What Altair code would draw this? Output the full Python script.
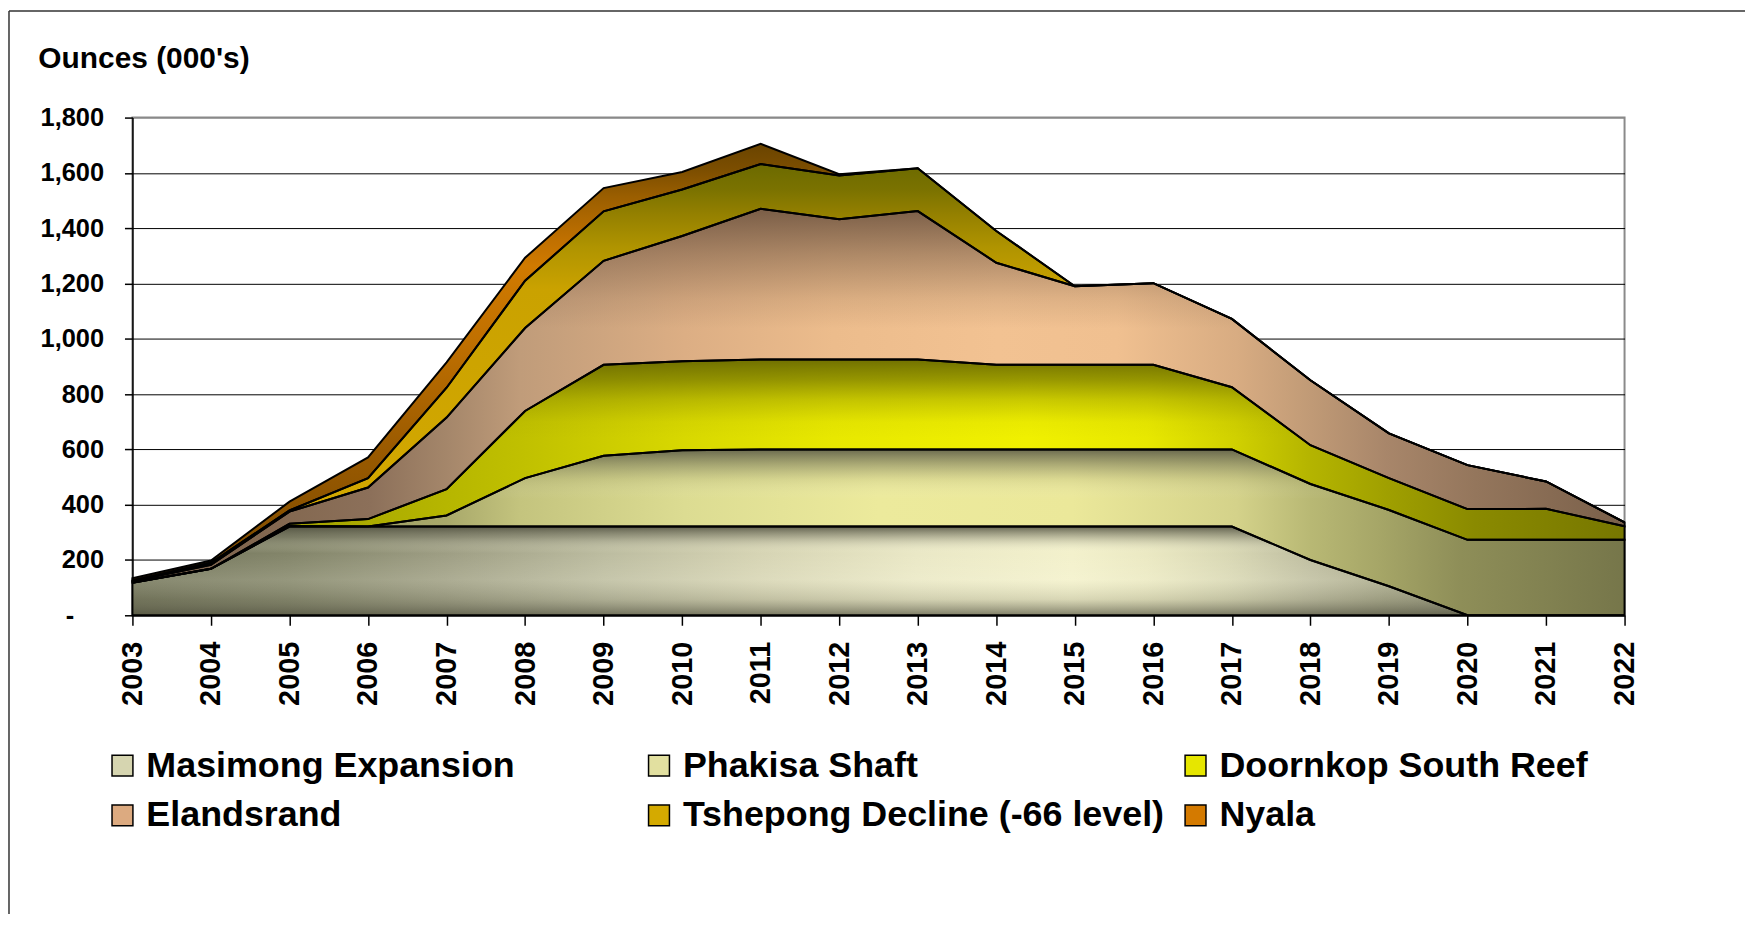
import altair as alt
import pandas as pd

# ---------------- data ----------------
years = list(range(2003, 2023))
series_names = [
    "Masimong Expansion",
    "Phakisa Shaft",
    "Doornkop South Reef",
    "Elandsrand",
    "Tshepong Decline (-66 level)",
    "Nyala",
]
masimong = [118, 168, 321, 321, 321, 321, 321, 321, 321, 321, 321, 321, 321, 321, 321, 200, 105, 0, 0, 0]
phakisa = [0, 0, 2, 0, 40, 175, 256, 276, 279, 279, 279, 279, 279, 279, 279, 275, 276, 273, 273, 273]
doornkop = [0, 0, 8, 27, 95, 243, 329, 322, 325, 325, 325, 306, 306, 306, 225, 140, 115, 111, 112, 49]
elandsrand = [5, 15, 44, 114, 259, 300, 376, 453, 545, 507, 537, 369, 284, 295, 247, 235, 162, 159, 99, 14]
tshepong = [3, 7, 4, 34, 108, 171, 179, 168, 162, 159, 155, 115, 0, 0, 0, 0, 0, 0, 0, 0]
nyala = [8, 8, 32, 75, 92, 83, 84, 63, 73, 4, 0, 0, 0, 0, 0, 0, 0, 0, 0, 0]
y_ticks = [0, 200, 400, 600, 800, 1000, 1200, 1400, 1600, 1800]
legend_colors = {
    "Masimong Expansion": "#d6d5b0",
    "Phakisa Shaft": "#e2e0a0",
    "Doornkop South Reef": "#e6e600",
    "Elandsrand": "#dcaa80",
    "Tshepong Decline (-66 level)": "#d4aa00",
    "Nyala": "#d47a00",
}
# legend fills column by column: reorder so rows read as in the original
legend_order = [
    "Masimong Expansion", "Elandsrand",
    "Phakisa Shaft", "Tshepong Decline (-66 level)",
    "Doornkop South Reef", "Nyala",
]

all_values = [masimong, phakisa, doornkop, elandsrand, tshepong, nyala]
rows = []
for order, (name, vals) in enumerate(zip(series_names, all_values)):
    for yr, v in zip(years, vals):
        rows.append({"year": yr, "series": name, "value": v, "order": order})
df = pd.DataFrame(rows)

FONT = "Liberation Sans"


def hgrad(stops):
    return {"gradient": "linear", "x1": 0, "y1": 0, "x2": 1, "y2": 0,
            "stops": [{"offset": o, "color": c} for o, c in stops]}


def vgrad(stops):
    return {"gradient": "linear", "x1": 0, "y1": 0, "x2": 0, "y2": 1,
            "stops": [{"offset": o, "color": c} for o, c in stops]}


fills = {
    "Masimong Expansion": (
        hgrad([(0, "#72745a"), (0.105, "#83856a"), (0.21, "#9e9e84"), (0.316, "#bcbca0"),
               (0.42, "#d6d4b4"), (0.526, "#eae8c6"), (0.63, "#f3f1cc"), (0.68, "#ebe9c3"),
               (0.737, "#d8d7b4"), (0.79, "#bebda0"), (0.84, "#a8a88a"), (0.9, "#96967c"), (1, "#888870")]),
        vgrad([(0, "rgba(75,75,58,0.85)"), (0.12, "rgba(105,105,88,0.4)"), (0.3, "rgba(255,255,230,0)"),
               (0.6, "rgba(255,255,235,0.15)"), (0.82, "rgba(110,110,90,0.2)"), (0.93, "rgba(90,90,72,0.5)"),
               (1, "rgba(80,80,60,0.7)")]),
    ),
    "Phakisa Shaft": (
        hgrad([(0, "#8a8a5c"), (0.21, "#a8a86a"), (0.26, "#c4c47e"), (0.37, "#dcdc92"),
               (0.5, "#ecea9c"), (0.63, "#ebe89a"), (0.74, "#d4d28a"), (0.79, "#b8b874"),
               (0.84, "#a4a466"), (0.89, "#8e8e58"), (1, "#76764a")]),
        vgrad([(0, "rgba(85,85,66,0.85)"), (0.08, "rgba(95,95,72,0.5)"), (0.18, "rgba(120,120,90,0.14)"),
               (0.3, "rgba(255,255,255,0)"), (1, "rgba(255,255,255,0)")]),
    ),
    "Doornkop South Reef": (
        hgrad([(0, "#909000"), (0.1, "#a0a000"), (0.26, "#c0c000"), (0.37, "#d8d800"),
               (0.47, "#e8e800"), (0.6, "#f0f000"), (0.68, "#e8e800"), (0.74, "#d0d000"),
               (0.79, "#b4b400"), (0.84, "#a0a000"), (0.9, "#8a8a00"), (1, "#777700")]),
        vgrad([(0, "rgba(100,100,0,0.9)"), (0.09, "rgba(105,105,0,0.65)"), (0.18, "rgba(110,110,0,0.3)"),
               (0.28, "rgba(120,120,0,0.05)"), (0.35, "rgba(120,120,0,0)"), (1, "rgba(120,120,0,0)")]),
    ),
    "Elandsrand": (
        hgrad([(0, "#7c6450"), (0.1, "#836850"), (0.16, "#8c705a"), (0.21, "#a4866a"),
               (0.26, "#c09c7a"), (0.37, "#dcae84"), (0.47, "#ecbc8c"), (0.58, "#f2c292"),
               (0.66, "#f0c090"), (0.74, "#d8ac82"), (0.79, "#c09a76"), (0.84, "#a8866a"),
               (0.9, "#94765c"), (1, "#7a604a")]),
        vgrad([(0, "rgba(110,84,64,0.9)"), (0.12, "rgba(110,84,64,0.5)"), (0.24, "rgba(110,84,64,0.15)"),
               (0.32, "rgba(110,84,64,0)"), (1, "rgba(110,84,64,0)")]),
    ),
    "Tshepong Decline (-66 level)": (
        vgrad([(0, "#6c6a00"), (0.06, "#7a7200"), (0.12, "#948000"), (0.2, "#b09400"),
               (0.3, "#caa200"), (1, "#d6aa00")]),
        None,
    ),
    "Nyala": (
        vgrad([(0, "#6a4400"), (0.06, "#7c4e00"), (0.12, "#9a5e00"), (0.22, "#c07000"),
               (0.28, "#d07a00"), (0.45, "#c07000"), (0.7, "#9a5a00"), (1, "#7a4a00")]),
        None,
    ),
}

x_enc = alt.X(
    "year:Q",
    scale=alt.Scale(domain=[2003, 2022], nice=False, zero=False),
    axis=alt.Axis(
        values=years, format="d", labelAngle=-90, title=None, grid=False,
        labelFont=FONT, labelFontSize=29, labelFontWeight="bold", labelColor="black",
        tickSize=10, tickColor="black", tickWidth=1.5, domainColor="black", domainWidth=1.5,
        labelPadding=16, labelOverlap=False,
    ),
)
y_enc = alt.Y(
    "v1:Q",
    stack=None,
    scale=alt.Scale(domain=[0, 1800], nice=False),
    axis=alt.Axis(
        values=y_ticks,
        labelExpr="datum.value == 0 ? '-' : format(datum.value, ',')",
        title="Ounces (000's)", titleAngle=0, titleX=-95, titleY=-50, titleAlign="left",
        titleBaseline="alphabetic", titleFont=FONT, titleFontSize=30, titleFontWeight="bold",
        titleColor="black",
        labelFont=FONT, labelFontSize=25.5, labelFontWeight="bold", labelColor="black",
        tickSize=8, tickColor="black", tickWidth=1.5, domainColor="black", domainWidth=1.5,
        labelPadding={"condition": {"test": "datum.value == 0", "value": 51}, "value": 21},
        grid=True, gridWidth=1,
        gridColor={"condition": {"test": "datum.value >= 1800", "value": "#8a8a8a"}, "value": "black"},
    ),
)

base = alt.Chart(df).transform_stack(
    stack="value", groupby=["year"], as_=["v0", "v1"],
    sort=[alt.SortField("order", order="ascending")],
)

layers = []
for name in series_names:
    main_fill, overlay = fills[name]
    sub = base.transform_filter(alt.datum.series == name)
    layers.append(sub.mark_area(fill=main_fill, strokeWidth=0).encode(x=x_enc, y=y_enc, y2="v0:Q"))
    if overlay is not None:
        layers.append(sub.mark_area(fill=overlay, strokeWidth=0).encode(x=x_enc, y=y_enc, y2="v0:Q"))

outline = base.mark_area(fillOpacity=0, stroke="black", strokeWidth=2, strokeJoin="miter").encode(
    x=x_enc, y=y_enc, y2="v0:Q", detail="series:N"
)
layers.append(outline)

legend_layer = alt.Chart(df).transform_filter("false").mark_square(size=441, opacity=1).encode(
    color=alt.Color(
        "series:N",
        scale=alt.Scale(domain=legend_order, range=[legend_colors[n] for n in legend_order]),
        legend=alt.Legend(
            title=None, orient="none", legendX=-28, legendY=633, columns=3, gridAlign="all",
            columnPadding=13, rowPadding=14, padding=0,
            labelFont=FONT, labelFontSize=36, labelFontWeight="bold", labelColor="black",
            labelLimit=800, labelOffset=6,
            symbolType="square", symbolSize=441, symbolStrokeColor="black",
            symbolStrokeWidth=1.5, symbolOpacity=1,
        ),
    )
)
layers.append(legend_layer)

frame_data = alt.Data(values=[{"k": 1}])
frame_left = alt.Chart(frame_data).mark_rule(color="#333333", strokeWidth=1.5).encode(
    x=alt.value(-124), y=alt.value(-107), y2=alt.value(800)
)
frame_top = alt.Chart(frame_data).mark_rule(color="#333333", strokeWidth=1.5).encode(
    x=alt.value(-124), x2=alt.value(1625), y=alt.value(-107)
)
layers.extend([frame_left, frame_top])

chart = alt.layer(*layers).properties(
    width=1499,
    height=500,
    autosize=alt.AutoSizeParams(type="none"),
    padding={"left": 125, "top": 108, "right": 121, "bottom": 300},
    background="white",
).configure_view(stroke="#8a8a8a", strokeWidth=2)

chart.save("out.html", embed_options={"renderer": "svg", "actions": False})
